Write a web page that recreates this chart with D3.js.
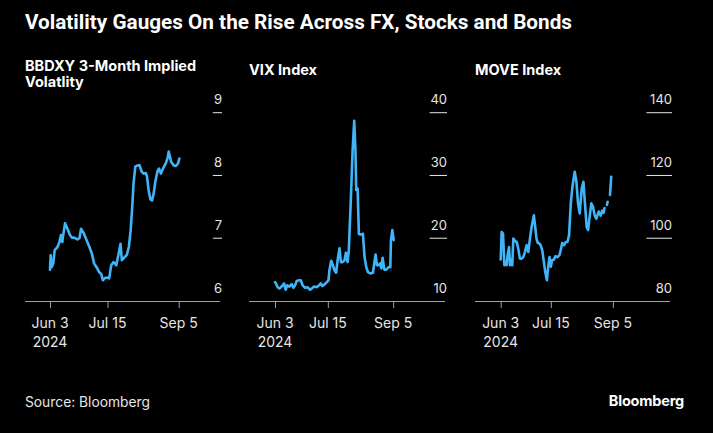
<!DOCTYPE html>
<html>
<head>
<meta charset="utf-8">
<script src="https://cdn.jsdelivr.net/npm/d3@7"></script>
<style>
  html, body { margin: 0; padding: 0; background: #000; }
  svg { display: block; }
</style>
</head>
<body>
<svg id="chart" width="713" height="433"></svg>
<script>
// ---- Data (day offset from 2024-06-03, value) ----
const startDate = "2024-06-03";
const xTickDates = ["2024-06-03", "2024-07-15", "2024-09-05"];
const xTickLabels = [["Jun 3", "2024"], ["Jul 15"], ["Sep 5"]];

const fxTicks = [6, 7, 8, 9];
const vixTicks = [10, 20, 30, 40];
const moveTicks = [80, 100, 120, 140];

const fxSeries = [
  [0,6.50],[0.5,6.73],[1.2,6.54],[2.4,6.60],[3.4,6.81],[5.4,6.86],[6.8,6.93],[8,7.05],[9,6.94],[9.8,7.07],
  [11,7.24],[12.7,7.15],[14.6,7.05],[15.9,7.01],[17.6,7.01],[20,6.98],[21.5,7.00],[22.7,7.15],[24.4,7.09],[26.9,6.96],
  [28.8,6.86],[30.5,6.76],[32.2,6.60],[34.2,6.53],[35.9,6.46],[37.4,6.43],[38.6,6.33],[40.3,6.37],[42,6.37],[43.2,6.36],
  [44.7,6.57],[46.4,6.62],[48.4,6.57],[50,6.74],[51.5,6.91],[52.5,6.65],[54.2,6.69],[56.2,6.74],[57.6,6.86],[58.9,7.13],
  [60.1,7.50],[61,7.87],[62.3,8.14],[64,8.16],[65.4,8.16],[67,8.06],[68.4,8.03],[70,8.04],[70.8,7.99],[72,7.77],
  [73.3,7.62],[74.5,7.60],[75.7,7.71],[76.9,7.90],[78.4,8.06],[79.6,8.11],[81,8.03],[83,8.13],[84.7,8.20],[86,8.29],
  [86.7,8.38],[88.4,8.22],[90.4,8.16],[92,8.15],[93.5,8.19],[94.5,8.27]
];

const vixSeries = [
  [0,13.0],[0.8,12.8],[2.1,12.2],[3.5,12.0],[5.3,12.3],[7.2,12.8],[8.5,11.8],[9.8,12.5],[11.4,12.3],[13.3,12.7],
  [14.6,12.1],[16,12.5],[17.3,13.2],[19.1,13.3],[20.5,13.3],[22,12.5],[23.9,12.1],[25.8,12.2],[27.9,11.8],[29.2,12.0],
  [31.1,12.3],[33.2,12.2],[35.1,12.5],[36.4,12.8],[37.7,12.4],[39.3,12.6],[41.2,13.0],[42.5,13.3],[43.3,14.9],[44.7,16.4],
  [46,15.7],[47.3,14.9],[48.6,14.5],[50,16.8],[51.3,18.4],[52.4,16.2],[53.7,16.2],[55.3,16.5],[56.4,17.7],[57.7,16.2],
  [58.7,18.1],[60.3,26.1],[61.7,34.0],[63,38.7],[64,34.0],[64.6,27.7],[65.7,27.9],[66.7,20.7],[67.8,20.6],[69.9,20.7],
  [71.2,17.0],[72.6,15.4],[73.9,14.6],[75.8,14.4],[77.9,14.5],[78.9,16.0],[80,17.4],[81.1,15.7],[82.4,15.7],[83.7,16.0],
  [84.5,15.2],[85.6,16.9],[86.9,15.0],[88.5,15.0],[90.4,15.4],[91.7,15.4],[92.2,19.7],[93.3,21.3],[94.4,19.7]
];

const moveSeries = [
  [0,93.2],[0.8,102.0],[1.9,101.5],[3.1,91.4],[4.2,92.4],[5,91.4],[5.8,94.6],[7,97.2],[7.8,91.4],[8.6,93.2],
  [9.7,91.4],[10.6,99.9],[12,99.1],[13.4,98.8],[14.7,96.7],[16.1,93.5],[17.5,93.5],[18.9,94.0],[20.3,95.6],[21.7,97.8],
  [23.1,95.6],[24.5,99.9],[25.9,103.6],[27.8,107.3],[28.9,103.6],[30,99.9],[31,98.5],[32,98.5],[33.4,97.8],[34.8,96.2],
  [36.2,92.4],[37.3,89.3],[38.7,86.6],[39.8,90.9],[40.9,94.0],[42,90.9],[43.1,93.0],[44.5,93.2],[45.9,94.3],[47.6,94.0],
  [49.2,94.6],[50.3,96.2],[51.5,98.5],[53.1,97.8],[54.5,98.8],[55.9,98.8],[57.3,101.0],[58.7,111.1],[60.1,116.4],[62,121.2],
  [63.4,118.0],[64.8,111.1],[66.2,107.9],[67.9,115.9],[69.3,118.0],[70.6,111.1],[72,103.6],[73.2,102.6],[74.5,106.8],[75.9,111.1],
  [77.3,110.0],[78.7,107.3],[80.1,106.2],[82.1,108.5],[83.7,107.2],[85.1,108.8],[86.2,108.1],[87.0,109.6],[88,null],
  [89.0,110.6],[89.6,111.6],[90.5,null],[91.6,113.8],[92.6,119.6]
];

const titleText = "Volatility Gauges On the Rise Across FX, Stocks and Bonds";
const sourceText = "Source: Bloomberg";
const brandText = "Bloomberg";

// ---- Layout ----
const svg = d3.select("#chart");
svg.append("rect").attr("width", 713).attr("height", 433).attr("fill", "#000");

const LINE = "#3fb4f6";
const FONT = "Inter, 'Noto Sans', Arial, sans-serif";
const parse = d3.utcParse("%Y-%m-%d");
const base = parse(startDate);
const toDate = d => d3.utcHour.offset(base, Math.round(d * 24));

const panels = [
  { title: ["BBDXY 3-Month Implied", "Volatlity"], titleY: 70.5, series: fxSeries, ticks: fxTicks,
    left: 25, right: 220, x0: 50, x1: 178.7 },
  { title: ["VIX Index"], titleY: 75, series: vixSeries, ticks: vixTicks,
    left: 249, right: 445, x0: 275, x1: 393.2 },
  { title: ["MOVE Index"], titleY: 75, series: moveSeries, ticks: moveTicks,
    left: 475, right: 670, x0: 500.7, x1: 612.9 }
];

const yTop = 112.7, yBot = 301;

svg.append("text")
  .attr("x", 25).attr("y", 29)
  .attr("fill", "#fff")
  .attr("font-family", "Roboto, 'Liberation Sans', Arial, sans-serif")
  .attr("font-weight", 700)
  .attr("font-size", 19.5)
  .attr("textLength", 547)
  .attr("lengthAdjust", "spacingAndGlyphs")
  .text(titleText);

panels.forEach(p => {
  const g = svg.append("g");
  const x = d3.scaleUtc()
    .domain([parse(xTickDates[0]), parse(xTickDates[2])])
    .range([p.x0, p.x1]);
  const y = d3.scaleLinear()
    .domain([p.ticks[0], p.ticks[p.ticks.length - 1]])
    .range([yBot, yTop]);

  // panel title
  p.title.forEach((t, i) => {
    g.append("text")
      .attr("x", p.left).attr("y", p.titleY + i * 16)
      .attr("fill", "#fff")
      .attr("font-family", FONT)
      .attr("font-weight", 700)
      .attr("font-size", 14.5)
      .text(t);
  });

  // y ticks: label above an underline
  const labelW = d3.max(p.ticks, t => String(t).length) * 8.2;
  p.ticks.forEach((t, i) => {
    if (i > 0) {
      g.append("line")
        .attr("x1", p.right + 2 - labelW - 1).attr("x2", p.right + 2)
        .attr("y1", y(t)).attr("y2", y(t))
        .attr("stroke", "#e6e6e6").attr("stroke-width", 1);
    }
    g.append("text")
      .attr("x", p.right + 2).attr("y", y(t) - 8.5)
      .attr("text-anchor", "end")
      .attr("fill", "#e6e6e6")
      .attr("font-family", FONT)
      .attr("font-size", 13)
      .text(t);
  });

  // x axis
  const axis = d3.axisBottom(x)
    .tickValues(xTickDates.map(parse))
    .tickSize(7)
    .tickSizeOuter(0)
    .tickFormat(() => "");
  const ax = g.append("g").attr("transform", `translate(0,${yBot})`).call(axis);
  ax.select(".domain").remove();
  ax.selectAll(".tick line").attr("stroke", "#a0a0a0");
  g.append("line")
    .attr("x1", p.left).attr("x2", p.right)
    .attr("y1", yBot + 0.5).attr("y2", yBot + 0.5)
    .attr("stroke", "#a0a0a0").attr("stroke-width", 1);

  xTickDates.forEach((d, i) => {
    xTickLabels[i].forEach((lab, j) => {
      g.append("text")
        .attr("x", x(parse(d))).attr("y", 328 + j * 18.5)
        .attr("text-anchor", "middle")
        .attr("fill", "#e6e6e6")
        .attr("font-family", FONT)
        .attr("font-size", 14)
        .text(lab);
    });
  });

  // line
  const line = d3.line()
    .defined(d => d[1] !== null)
    .x(d => x(toDate(d[0])))
    .y(d => y(d[1]));
  g.append("path")
    .datum(p.series)
    .attr("d", line)
    .attr("fill", "none")
    .attr("stroke", LINE)
    .attr("stroke-width", 2.6)
    .attr("stroke-linejoin", "round")
    .attr("stroke-linecap", "round");
});

svg.append("text")
  .attr("x", 25).attr("y", 407)
  .attr("fill", "#e6e6e6")
  .attr("font-family", FONT)
  .attr("font-size", 13.8)
  .text(sourceText);

svg.append("text")
  .attr("x", 684).attr("y", 406)
  .attr("text-anchor", "end")
  .attr("fill", "#fff")
  .attr("font-family", FONT)
  .attr("font-weight", 700)
  .attr("font-size", 14.5)
  .attr("letter-spacing", -0.2)
  .text(brandText);
</script>
</body>
</html>
